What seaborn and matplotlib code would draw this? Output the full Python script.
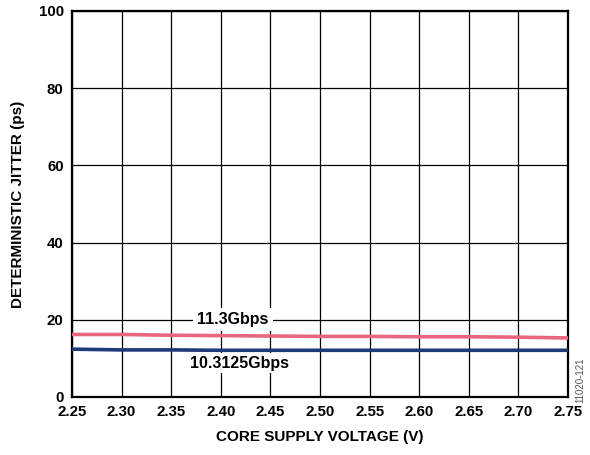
import pandas as pd
import matplotlib.pyplot as plt
import seaborn as sns

sns.set_style("white")
plt.rcParams['font.family'] = ['Liberation Sans', 'DejaVu Sans']
plt.rcParams['font.weight'] = 'bold'
plt.rcParams['text.color'] = 'black'
plt.rcParams['axes.labelcolor'] = 'black'
plt.rcParams['xtick.color'] = 'black'
plt.rcParams['ytick.color'] = 'black'

voltage = [2.25, 2.30, 2.35, 2.40, 2.45, 2.50, 2.55, 2.60, 2.65, 2.70, 2.75]
jitter_11g = [16.2, 16.2, 16.0, 15.9, 15.8, 15.7, 15.7, 15.6, 15.6, 15.5, 15.3]
jitter_10g = [12.4, 12.2, 12.2, 12.1, 12.1, 12.1, 12.1, 12.1, 12.1, 12.1, 12.1]
series_names = ['11.3Gbps', '10.3125Gbps']
colors = ['#e8667f', '#1f3a78']
yticks = [0, 20, 40, 60, 80, 100]

df = pd.concat([
    pd.DataFrame({'voltage': voltage, 'jitter': jitter_11g, 'rate': series_names[0]}),
    pd.DataFrame({'voltage': voltage, 'jitter': jitter_10g, 'rate': series_names[1]}),
], ignore_index=True)

fig = plt.figure(figsize=(5.9, 4.55), dpi=100)
ax = fig.add_axes([72 / 590, 58 / 455, 496 / 590, 386 / 455])

sns.lineplot(data=df, x='voltage', y='jitter', hue='rate', palette=colors,
             linewidth=2.6, legend=False, ax=ax, zorder=3)

ax.set_xlim(2.25, 2.75)
ax.set_ylim(0, 100)
ax.set_xticks(voltage)
ax.set_xticklabels([f"{v:.2f}" for v in voltage])
ax.set_yticks(yticks)
ax.grid(True, color='black', linewidth=0.9)
for s in ax.spines.values():
    s.set_linewidth(1.6)
    s.set_color('black')
ax.tick_params(axis='x', labelsize=10.8, pad=6, length=0)
ax.tick_params(axis='y', labelsize=10.8, pad=6, length=0)

ax.set_xlabel('CORE SUPPLY VOLTAGE (V)', fontsize=11, fontweight='bold', labelpad=8)
ax.set_ylabel('DETERMINISTIC JITTER (ps)', fontsize=11, fontweight='bold', labelpad=10)

ax.text(2.412, 20, series_names[0], fontsize=11.5, fontweight='bold', ha='center', va='center',
        bbox=dict(facecolor='white', edgecolor='none', pad=3), zorder=4)
ax.text(2.419, 8.8, series_names[1], fontsize=11.5, fontweight='bold', ha='center', va='center',
        bbox=dict(facecolor='white', edgecolor='none', pad=2), zorder=4)

fig.text(580 / 590, 1 - 380 / 455, '11020-121', rotation=90, fontsize=7, color='#555555',
         fontweight='normal', ha='center', va='center')

fig.savefig('out.png', dpi=100)
